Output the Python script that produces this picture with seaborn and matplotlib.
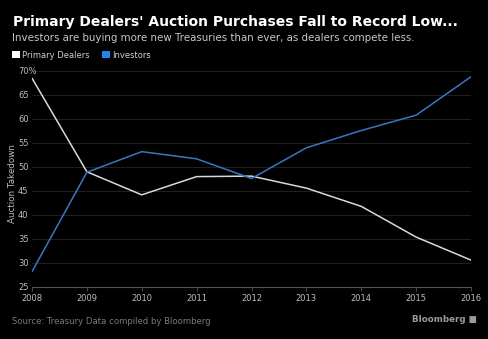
import matplotlib
matplotlib.use("Agg")
import matplotlib.pyplot as plt
import seaborn as sns
import pandas as pd
from matplotlib.patches import Patch

years = [2008, 2009, 2010, 2011, 2012, 2013, 2014, 2015, 2016]
dealers = [68.5, 49.0, 44.2, 48.0, 48.1, 45.6, 41.8, 35.4, 30.6]
investors = [28.2, 48.9, 53.2, 51.7, 47.6, 54.0, 57.6, 60.8, 68.8]
series_names = ["Primary Dealers", "Investors"]
yticks = [25, 30, 35, 40, 45, 50, 55, 60, 65, 70]
ytick_labels = ["25", "30", "35", "40", "45", "50", "55", "60", "65", "70%"]

df = pd.DataFrame({
    "year": years * 2,
    "value": dealers + investors,
    "series": [series_names[0]] * len(years) + [series_names[1]] * len(years),
})

sns.set_theme(style="dark")
plt.rcParams["font.family"] = ["DejaVu Sans"]

BG = "#000000"
line_colors = {series_names[0]: "#d9d9d9", series_names[1]: "#3a77c0"}
legend_colors = {series_names[0]: "#ffffff", series_names[1]: "#1f86ea"}

fig = plt.figure(figsize=(4.88, 3.39), dpi=100, facecolor=BG)
ax = fig.add_axes([32 / 488, 1 - 287 / 339, (471 - 32) / 488, (287 - 71) / 339])
ax.set_facecolor(BG)

sns.lineplot(data=df, x="year", y="value", hue="series", palette=line_colors,
             linewidth=1.1, ax=ax, legend=False)

ax.set_xlim(2008, 2016)
ax.set_ylim(25, 70)
ax.set_xticks(years)
ax.set_xticklabels([str(y) for y in years], color="#bdbdbd", fontsize=6)
ax.set_yticks(yticks)
ax.set_yticklabels(ytick_labels, color="#bdbdbd", fontsize=6)
for lbl in ax.get_yticklabels():
    lbl.set_ha("left")
ax.tick_params(axis="y", length=0, pad=10)
ax.tick_params(axis="x", length=3, width=0.6, color="#555555", pad=2, bottom=True)
ax.grid(axis="y", color="#262626", linewidth=0.6)
ax.grid(axis="x", visible=False)
for s in ["top", "right", "left"]:
    ax.spines[s].set_visible(False)
ax.spines["bottom"].set_color("#555555")
ax.spines["bottom"].set_linewidth(0.8)
ax.set_xlabel("")
ax.set_ylabel("Auction Takedown", color="#bdbdbd", fontsize=6.3, labelpad=2)
ax.yaxis.set_label_coords(-15 / 439, 0.48)

fig.text(13 / 488, 1 - 22 / 339, "Primary Dealers' Auction Purchases Fall to Record Low...",
         color="white", fontsize=10, fontweight="bold", va="center", ha="left")
fig.text(12 / 488, 1 - 38 / 339,
         "Investors are buying more new Treasuries than ever, as dealers compete less.",
         color="#c8c8c8", fontsize=7.4, va="center", ha="left")

handles = [Patch(facecolor=legend_colors[n], edgecolor="none", label=n) for n in series_names]
leg = fig.legend(handles=handles, loc="center left", bbox_to_anchor=(9 / 488, 1 - 55 / 339),
                 ncol=2, frameon=False, fontsize=6, handlelength=0.95, handleheight=0.95,
                 handletextpad=0.25, columnspacing=1.5, borderaxespad=0)
for t in leg.get_texts():
    t.set_color("#d0d0d0")

fig.text(12 / 488, 1 - 321 / 339, "Source: Treasury Data compiled by Bloomberg",
         color="#7a7a7a", fontsize=6.1, va="center", ha="left")
fig.text(477 / 488, 1 - 320 / 339, "Bloomberg \u25a0", color="#9a9a9a", fontsize=6.3,
         fontweight="bold", va="center", ha="right")

fig.savefig("out.png", dpi=100, facecolor=BG)
